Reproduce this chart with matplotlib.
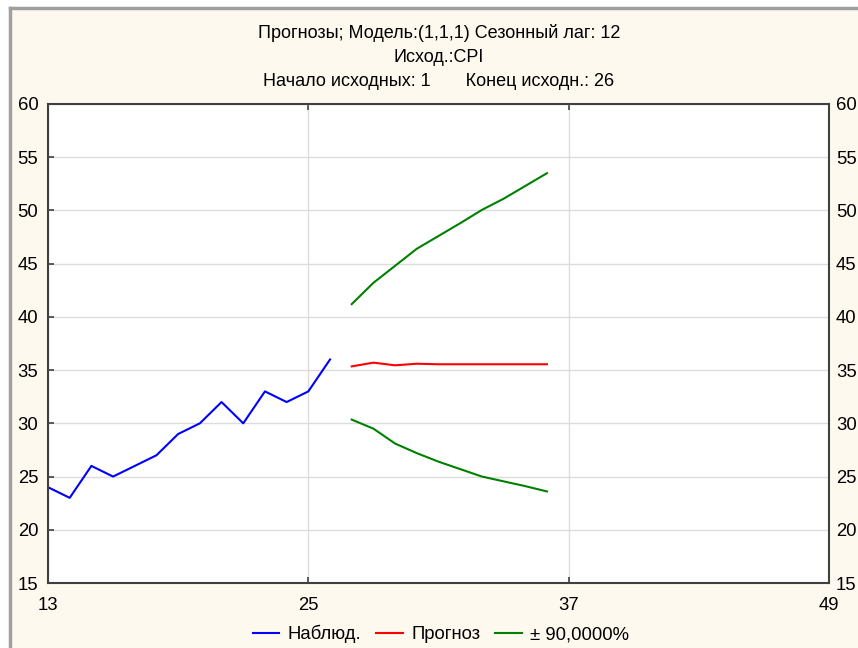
import matplotlib
matplotlib.use("Agg")
import matplotlib.pyplot as plt
from matplotlib.patches import Rectangle
from matplotlib.lines import Line2D

plt.rcParams['font.family'] = ['Liberation Sans', 'DejaVu Sans']

obs_x = list(range(13, 27))
obs_y = [24, 23, 26, 25, 26, 27, 29, 30, 32, 30, 33, 32, 33, 36]
fc_x = list(range(27, 37))
fc_y = [35.35, 35.7, 35.45, 35.6, 35.55, 35.55, 35.55, 35.55, 35.55, 35.55]
upper = [41.2, 43.2, 44.8, 46.4, 47.6, 48.8, 50.05, 51.1, 52.3, 53.5]
lower = [30.35, 29.5, 28.1, 27.2, 26.4, 25.7, 25.0, 24.55, 24.1, 23.6]
xticks = [13, 25, 37, 49]
yticks = [15, 20, 25, 30, 35, 40, 45, 50, 55, 60]
title_lines = ["Прогнозы; Модель:(1,1,1) Сезонный лаг: 12",
               "Исход.:CPI",
               "Начало исходных: 1       Конец исходн.: 26"]
legend_labels = ["Наблюд.", "Прогноз", "± 90,0000%"]

W, H = 858, 648
fig = plt.figure(figsize=(W/100, H/100), dpi=100)
fig.patch.set_facecolor('white')
bg = '#FEF9EF'
# cream panel with gray border on top/left
fig.patches.append(Rectangle((10/W, 0), 1, 1 - 8/H, transform=fig.transFigure,
                             facecolor=bg, edgecolor='none', zorder=-10))
fig.lines.append(Line2D([10/W, 10/W], [0, 1 - 8/H], transform=fig.transFigure,
                        color='#A0A0A0', lw=2.5, zorder=-9))
fig.lines.append(Line2D([10/W, 1], [1 - 8/H, 1 - 8/H], transform=fig.transFigure,
                        color='#A0A0A0', lw=2.5, zorder=-9))

left, right, top, bottom = 48, 829, 104, 583
ax = fig.add_axes([left/W, 1 - bottom/H, (right-left)/W, (bottom-top)/H])
ax.set_zorder(5)
ax.set_facecolor('white')
ax.plot(obs_x, obs_y, color='#0000FF', lw=1.5, label=legend_labels[0])
ax.plot(fc_x, fc_y, color='#FF0000', lw=1.5, label=legend_labels[1])
ax.plot(fc_x, upper, color='#008000', lw=1.5, label=legend_labels[2])
ax.plot(fc_x, lower, color='#008000', lw=1.5)
ax.set_xlim(13, 49)
ax.set_ylim(15, 60)
ax.set_xticks(xticks)
ax.set_yticks(yticks)
ax.grid(True, color='#DCDCDC', lw=1)
ax.set_axisbelow(True)
for s in ax.spines.values():
    s.set_color('#404040')
    s.set_linewidth(1.5)
ax.tick_params(direction='in', length=4, width=1.2, color='#404040',
               labelsize=13.3, top=True, right=True, labelcolor='#000000')
ax.tick_params(axis='x', pad=10)
ax.tick_params(axis='y', pad=7)

# right-hand duplicate labels
ax2 = ax.twinx()
ax2.set_ylim(ax.get_ylim())
ax2.set_yticks(yticks)
ax2.tick_params(axis='y', direction='in', length=0, labelsize=13.3, pad=5)
for s in ax2.spines.values():
    s.set_visible(False)

for i, t in enumerate(title_lines):
    fig.text(439/W, 1 - (33 + 24*i)/H, t, ha='center', va='center', fontsize=13)

ax.legend(loc='center', bbox_to_anchor=(441/W, 1 - 634/H), bbox_transform=fig.transFigure,
          ncol=3, frameon=False, fontsize=13.3, handlelength=1.45, columnspacing=0.8,
          handletextpad=0.45)

fig.savefig('out.png', dpi=100, facecolor=fig.get_facecolor())
